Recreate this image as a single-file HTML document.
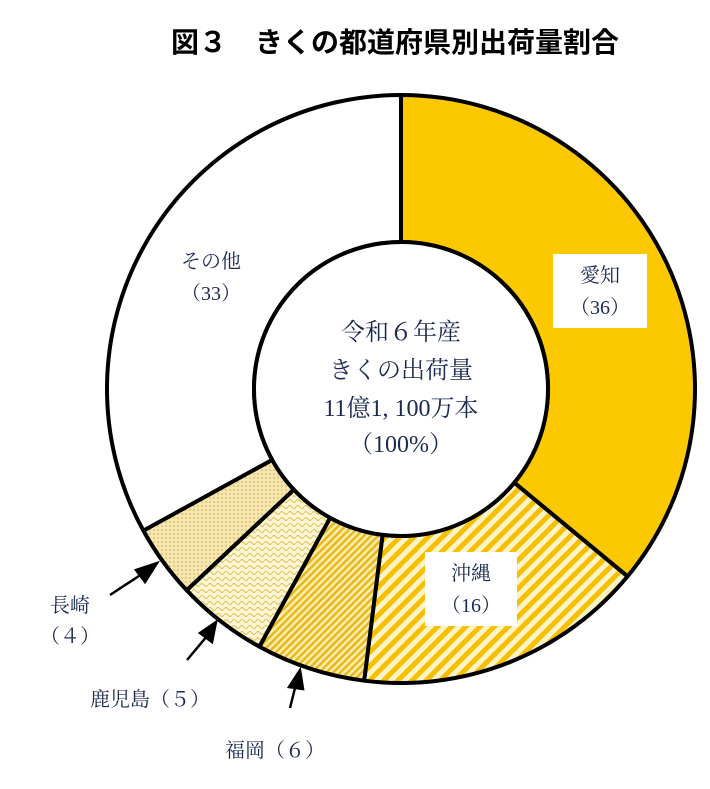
<!DOCTYPE html>
<html><head><meta charset="utf-8"><style>
body{margin:0;background:#fff;}
svg text{font-family:"Liberation Serif","Noto Serif CJK SC",serif;fill:#1c2a50;}
</style></head><body>
<svg width="710" height="784" viewBox="0 0 710 784">
<defs>
<pattern id="p-okinawa" patternUnits="userSpaceOnUse" width="10" height="10" patternTransform="rotate(45)">
<rect width="10" height="10" fill="#fdf3c8"/><rect width="5" height="10" fill="#f6c000"/></pattern>
<pattern id="p-fukuoka" patternUnits="userSpaceOnUse" width="5" height="5" patternTransform="rotate(45)">
<rect width="5" height="5" fill="#fbeeaa"/><rect width="2.5" height="5" fill="#e9b820"/></pattern>
<pattern id="p-kagoshima" patternUnits="userSpaceOnUse" width="8" height="6">
<rect width="8" height="6" fill="#fdf6d8"/><path d="M0 3 Q2 0 4 3 T8 3" stroke="#e6c860" stroke-width="1.2" fill="none"/></pattern>
<pattern id="p-nagasaki" patternUnits="userSpaceOnUse" width="4" height="4">
<rect width="4" height="4" fill="#f6e6b0"/><circle cx="2" cy="2" r="0.9" fill="#d9b860"/></pattern>
</defs>
<text x="395" y="52" text-anchor="middle" font-size="28" font-weight="bold" style="fill:#000;font-family:'Liberation Sans','Noto Sans CJK JP',sans-serif">図３　きくの都道府県別出荷量割合</text>
<g id="slices"></g>
<circle cx="401" cy="389" r="147" fill="#fff" stroke="#000" stroke-width="4"/>
<g font-size="24" text-anchor="middle">
<text x="401" y="340">令和６年産</text>
<text x="401" y="378">きくの出荷量</text>
<text x="401" y="416">11億1, 100万本</text>
<text x="401" y="452">（100%）</text>
</g>
<rect x="553" y="254" width="94" height="74" fill="#fff"/>
<rect x="425" y="552" width="92" height="74" fill="#fff"/>
<g font-size="20" text-anchor="middle">
<text x="600" y="282">愛知</text>
<text x="600" y="314">（36）</text>
<text x="471" y="580">沖縄</text>
<text x="471" y="612">（16）</text>
<text x="211" y="268">その他</text>
<text x="211" y="300">（33）</text>
<text x="70" y="612">長崎</text>
<text x="70" y="643">（４）</text>
<text x="150" y="706">鹿児島（５）</text>
<text x="275" y="757">福岡（６）</text>
</g>
<g stroke="#000" stroke-width="2.5" fill="#000">
<line x1="110" y1="595" x2="145" y2="572"/>
<polygon points="157,563 136,570 145,582"/>
<line x1="187" y1="660" x2="208" y2="635"/>
<polygon points="216,622 200,633 212,642"/>
<line x1="290" y1="708" x2="296" y2="684"/>
<polygon points="300,670 289,687 303,689"/>
</g>
</svg>
<script>
const categories=["愛知","沖縄","福岡","鹿児島","長崎","その他"];
const values=[36,16,6,5,4,33];
const fills=["#fcc800","url(#p-okinawa)","url(#p-fukuoka)","url(#p-kagoshima)","url(#p-nagasaki)","#fff"];
const names=["slice-aichi","slice-okinawa","slice-fukuoka","slice-kagoshima","slice-nagasaki","slice-other"];
const cx=401,cy=389,R=294,r=147;
const total=values.reduce((a,b)=>a+b,0);
function pt(frac,rad){const a=frac*2*Math.PI;return [cx+rad*Math.sin(a),cy-rad*Math.cos(a)];}
const g=document.getElementById('slices');
let acc=0;
values.forEach((v,i)=>{
 const f0=acc/total,f1=(acc+v)/total;acc+=v;
 const [x0,y0]=pt(f0,R),[x1,y1]=pt(f1,R),[x2,y2]=pt(f1,r),[x3,y3]=pt(f0,r);
 const large=(f1-f0)>0.5?1:0;
 const p=document.createElementNS('http://www.w3.org/2000/svg','path');
 p.setAttribute('d',`M${x0},${y0}A${R},${R} 0 ${large} 1 ${x1},${y1}L${x2},${y2}A${r},${r} 0 ${large} 0 ${x3},${y3}Z`);
 p.setAttribute('fill',fills[i]);
 p.setAttribute('stroke','#000');
 p.setAttribute('stroke-width','4');
 p.setAttribute('stroke-linejoin','round');
 
 
 g.appendChild(p);
});
</script>
</body></html>
